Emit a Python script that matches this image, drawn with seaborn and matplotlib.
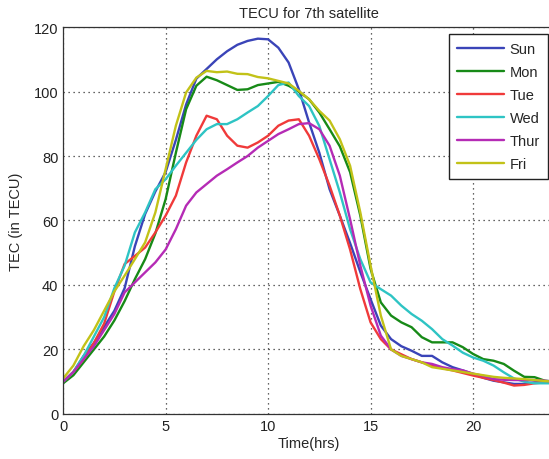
import matplotlib
matplotlib.use("Agg")
import matplotlib.pyplot as plt
import seaborn as sns
import numpy as np
import pandas as pd

# hourly samples (every half hour)
hours = [0, 0.5, 1, 1.5, 2, 2.5, 3, 3.5, 4, 4.5, 5, 5.5, 6, 6.5, 7, 7.5, 8, 8.5, 9, 9.5,
         10, 10.5, 11, 11.5, 12, 12.5, 13, 13.5, 14, 14.5, 15, 15.5, 16, 16.5, 17, 17.5,
         18, 18.5, 19, 19.5, 20, 20.5, 21, 21.5, 22, 22.5, 23, 23.5, 24]

sun = [10, 13, 18, 22, 27, 32, 39, 52, 62, 69, 75, 85, 96, 104, 107, 110, 112.5, 114.5, 115.7, 116.4,
       116.2, 113.6, 109, 100.7, 90.4, 81, 69.7, 61.5, 53, 44, 35.6, 27.4, 23.2, 21, 19.6, 18,
       18, 16, 14.5, 13.5, 12.4, 11.2, 10.3, 9.8, 9.3, 9.3, 9.8, 10, 10]
mon = [9.5, 12, 16, 20, 24, 29, 35, 41.8, 48, 56, 66.6, 81, 94.5, 101.8, 104.6, 103.5, 102, 100.5, 100.7, 102,
       102.5, 103, 101.8, 100, 97.6, 93.5, 88.3, 83, 75, 61.5, 45, 34.6, 30.5, 28.4, 26.9, 23.8,
       22.2, 22.2, 22.2, 20.7, 18.6, 17, 16.5, 15.5, 13.4, 11.5, 11.4, 10.3, 10]
tue = [10, 13, 17, 22, 28, 38, 46.5, 49, 51.6, 56.3, 61.5, 67.7, 78, 86.3, 92.5, 91.4, 86.3, 83.2, 82.6, 84.2,
       86.3, 89.4, 91, 91.4, 86.3, 79, 70.8, 61.5, 51, 38.7, 28.4, 23.2, 20, 18.5, 17, 16,
       15, 14.2, 13.5, 12.7, 11.9, 11.2, 10.5, 9.7, 8.8, 9, 9.5, 9.8, 10]
wed = [10, 13, 18, 24, 30, 39, 46, 56.3, 62.5, 69.7, 72.8, 77, 81, 85, 88.3, 89.9, 89.9, 91.4, 93.5, 95.5,
       98.6, 102, 102.8, 98.6, 95.5, 89.3, 79, 68.7, 57.3, 48, 40.8, 38.7, 36.7, 33.6, 31, 28.9,
       26.3, 23.2, 21.2, 19, 17.5, 16.5, 15, 12.9, 11, 10, 9.5, 9.5, 9.5]
thu = [10, 13, 17, 21, 26, 31, 37.7, 40.8, 43.9, 47, 51, 57.3, 64.6, 68.7, 71.3, 73.9, 75.9, 78, 80, 82.6,
       84.7, 86.8, 88.3, 89.9, 90.2, 88.3, 83.2, 73.9, 60.4, 46, 33.6, 24.3, 20, 18, 17, 16,
       15.5, 14.5, 13.9, 13.5, 12.5, 11.8, 10.8, 10.6, 10.5, 10.5, 10.5, 10.3, 10]
fri = [11, 15, 21, 26, 32, 38, 42.9, 48, 53.2, 62.5, 75.9, 89.4, 99.7, 104.3, 106.4, 106, 106.2, 105.5, 105.4, 104.5,
       104.1, 103.3, 102.5, 100.2, 97.6, 94, 91, 85.2, 77, 62.5, 46, 30.5, 20, 18, 17, 16,
       14.5, 14, 13.5, 13, 12.5, 12, 11.5, 11.2, 11, 10.8, 10.5, 10.2, 10]

days = ["Sun", "Mon", "Tue", "Wed", "Thur", "Fri"]
colors = ["#3a44b8", "#178a17", "#f03a3a", "#2ec4c4", "#b52bb5", "#c2c218"]

df = pd.DataFrame({
    "hour": hours * 6,
    "tec": sun + mon + tue + wed + thu + fri,
    "day": np.repeat(days, len(hours)),
})

sns.set_style("white")
plt.rcParams["font.family"] = ["Liberation Sans", "DejaVu Sans"]

fig = plt.figure(figsize=(5.49, 4.6), dpi=100)
# axes run slightly past the right edge, like the cropped original
ax = fig.add_axes([0.115, 0.098, 0.896, 0.841])

sns.lineplot(data=df, x="hour", y="tec", hue="day", hue_order=days,
             palette=dict(zip(days, colors)), linewidth=1.7, ax=ax)

ax.set_xlim(0, 24)
ax.set_ylim(0, 120)
ax.set_xticks([0, 5, 10, 15, 20])
ax.set_yticks([0, 20, 40, 60, 80, 100, 120])
ax.grid(True, color="#333333", linestyle=(0, (1, 3)), linewidth=0.9)
ax.tick_params(direction="in", length=4, labelsize=10.5, labelcolor="#222222", color="#333333")
for s in ax.spines.values():
    s.set_color("#333333")
    s.set_linewidth(0.9)

ax.set_title("TECU for 7th satellite", fontsize=10.5, pad=7)
ax.set_xlabel("Time(hrs)", fontsize=10.5, labelpad=2)
ax.set_ylabel("TEC (in TECU)", fontsize=10.5, labelpad=8)

leg = ax.legend(loc="upper right", bbox_to_anchor=(548 / 549, 1 - 35 / 460),
                bbox_transform=fig.transFigure, borderaxespad=0, fontsize=10.5,
                fancybox=False, framealpha=1, edgecolor="#222222",
                handlelength=3.2, handletextpad=0.4, borderpad=0.55, labelspacing=0.62)
leg.get_frame().set_linewidth(1.0)
for line in leg.get_lines():
    line.set_linewidth(1.7)

fig.savefig("out.png", dpi=100)
